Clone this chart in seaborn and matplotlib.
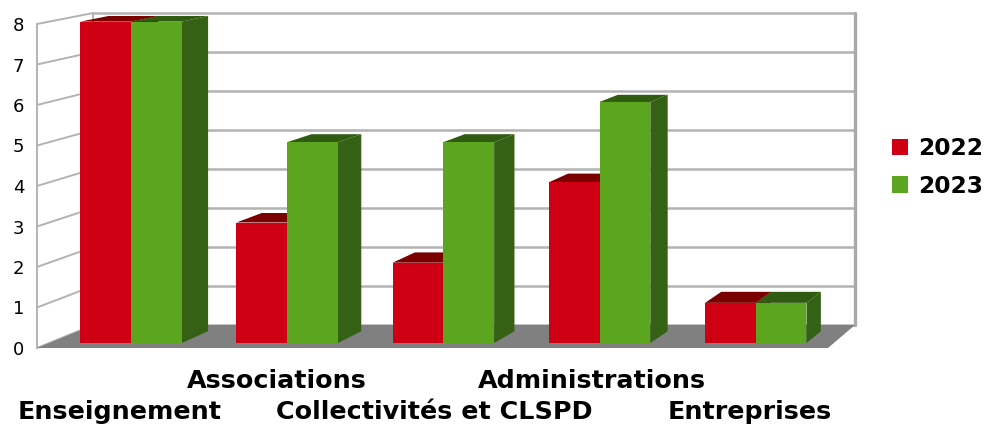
import matplotlib
matplotlib.use("Agg")
import matplotlib.pyplot as plt
from matplotlib.patches import Polygon
from matplotlib.transforms import Affine2D, blended_transform_factory
import seaborn as sns
import pandas as pd

# ---- data ----
categories = ["Enseignement", "Associations", "Collectivités et CLSPD",
              "Administrations", "Entreprises"]
years = ["2022", "2023"]
values_2022 = [8, 3, 2, 4, 1]
values_2023 = [8, 5, 5, 6, 1]
y_ticks = [0, 1, 2, 3, 4, 5, 6, 7, 8]

df = pd.DataFrame({
    "categorie": categories * 2,
    "annee": [years[0]] * len(categories) + [years[1]] * len(categories),
    "valeur": values_2022 + values_2023,
})

front_col = {"2022": "#cf0014", "2023": "#5ba51f"}
side_col = {"2022": "#8a0000", "2023": "#356114"}
top_col = {"2022": "#7b0000", "2023": "#2f5c10"}
grid_col = "#b3b3b3"

sns.set_style("white")
plt.rcParams["font.family"] = ["DejaVu Sans"]
plt.rcParams["text.color"] = "black"
plt.rcParams["ytick.color"] = "black"
plt.rcParams["xtick.color"] = "black"

fig = plt.figure(figsize=(9.86, 4.26), dpi=100)
W, H = 986, 426
ax = fig.add_axes([37 / W, (H - 348) / H, (828 - 37) / W, (348 - 24) / H])

sns.barplot(data=df, x="categorie", y="valeur", hue="annee", order=categories,
            hue_order=years, palette=front_col, saturation=1, width=0.65,
            linewidth=0, ax=ax)

XL, XR = -0.524, 4.5
ax.set_xlim(XL, XR)
ax.set_ylim(0, 8)

# perspective parameters (vanishing point in data coords, depth scales)
VX, VY = 9.127, 15.33
K_BAR_FRONT, K_BAR_BACK, K_WALL = 0.992, 0.973, 0.963


def proj(x, y, k):
    return (VX + k * (x - VX), VY + k * (y - VY))


persp_front = Affine2D().translate(-VX, -VY).scale(K_BAR_FRONT).translate(VX, VY)

# walls and floor
bl_x, b0 = proj(XL, 0, K_WALL)
br_x, _ = proj(XR, 0, K_WALL)
_, b8 = proj(XL, 8, K_WALL)

ax.add_patch(Polygon([(bl_x, b0), (br_x, b0), (br_x, b8), (bl_x, b8)],
                     closed=True, facecolor="white", edgecolor="none",
                     zorder=0.3, clip_on=False))
ax.add_patch(Polygon([(XL, 0), (XL, 8), (bl_x, b8), (bl_x, b0)],
                     closed=True, facecolor="white", edgecolor="none",
                     zorder=0.3, clip_on=False))
for v in y_ticks:
    _, yb = proj(XL, v, K_WALL)
    ax.plot([bl_x, br_x], [yb, yb], color=grid_col, lw=1.8, zorder=0.5,
            clip_on=False, solid_capstyle="butt")
    ax.plot([XL, bl_x], [v, yb], color=grid_col, lw=1.4, zorder=0.5,
            clip_on=False)
ax.plot([XL, XL], [0, 8], color=grid_col, lw=1.4, zorder=0.5, clip_on=False)
ax.plot([bl_x, bl_x], [b0, b8], color=grid_col, lw=1.4, zorder=0.5, clip_on=False)
ax.plot([br_x, br_x], [b0, b8], color="#aaaaaa", lw=2.4, zorder=0.5, clip_on=False)

ax.add_patch(Polygon([(XL, 0), (XR, 0), (br_x, b0), (bl_x, b0)], closed=True,
                     facecolor="#808080", edgecolor="none", zorder=0.8,
                     clip_on=False))

# 3D faces of the bars
for j, (yr, cont) in enumerate(zip(years, ax.containers)):
    for bar in cont:
        x0 = bar.get_x()
        x1 = x0 + bar.get_width()
        h = bar.get_height()
        bar.set_transform(persp_front + ax.transData)
        bar.set_zorder(3 + 2 * j)
        bar.set_clip_on(False)
        f_tl = proj(x0, h, K_BAR_FRONT)
        f_tr = proj(x1, h, K_BAR_FRONT)
        f_br = proj(x1, 0, K_BAR_FRONT)
        b_tl = proj(x0, h, K_BAR_BACK)
        b_tr = proj(x1, h, K_BAR_BACK)
        b_br = proj(x1, 0, K_BAR_BACK)
        ax.add_patch(Polygon([f_tr, b_tr, b_br, f_br], closed=True,
                             facecolor=side_col[yr], edgecolor="none",
                             zorder=2 + 2 * j, clip_on=False))
        ax.add_patch(Polygon([f_tl, f_tr, b_tr, b_tl], closed=True,
                             facecolor=top_col[yr], edgecolor="none",
                             zorder=2 + 2 * j, clip_on=False))

for s in ax.spines.values():
    s.set_visible(False)
ax.set_xlabel("")
ax.set_ylabel("")
ax.set_yticks(y_ticks)
ax.set_yticklabels([str(t) for t in y_ticks], fontsize=13, color="black")
ax.tick_params(axis="y", length=0, pad=9)
ax.set_xticks([])

trans = blended_transform_factory(ax.transData, ax.transAxes)
for i, cat in enumerate(categories):
    yb = (348 - 388) / 324 if i % 2 == 1 else (348 - 419) / 324
    ax.text(i, yb, cat, transform=trans, ha="center", va="baseline",
            fontsize=18.3, fontweight="bold", color="black")

sns.move_legend(ax, "center left", bbox_to_anchor=(892 / W, 1 - 167.5 / H),
                bbox_transform=fig.transFigure, frameon=False, title=None,
                prop={"weight": "bold", "size": 16.8}, handlelength=0.7,
                handleheight=0.7, handletextpad=0.4, labelspacing=0.62,
                borderpad=0, borderaxespad=0, labelcolor="black")

fig.savefig("out.png", dpi=100)
